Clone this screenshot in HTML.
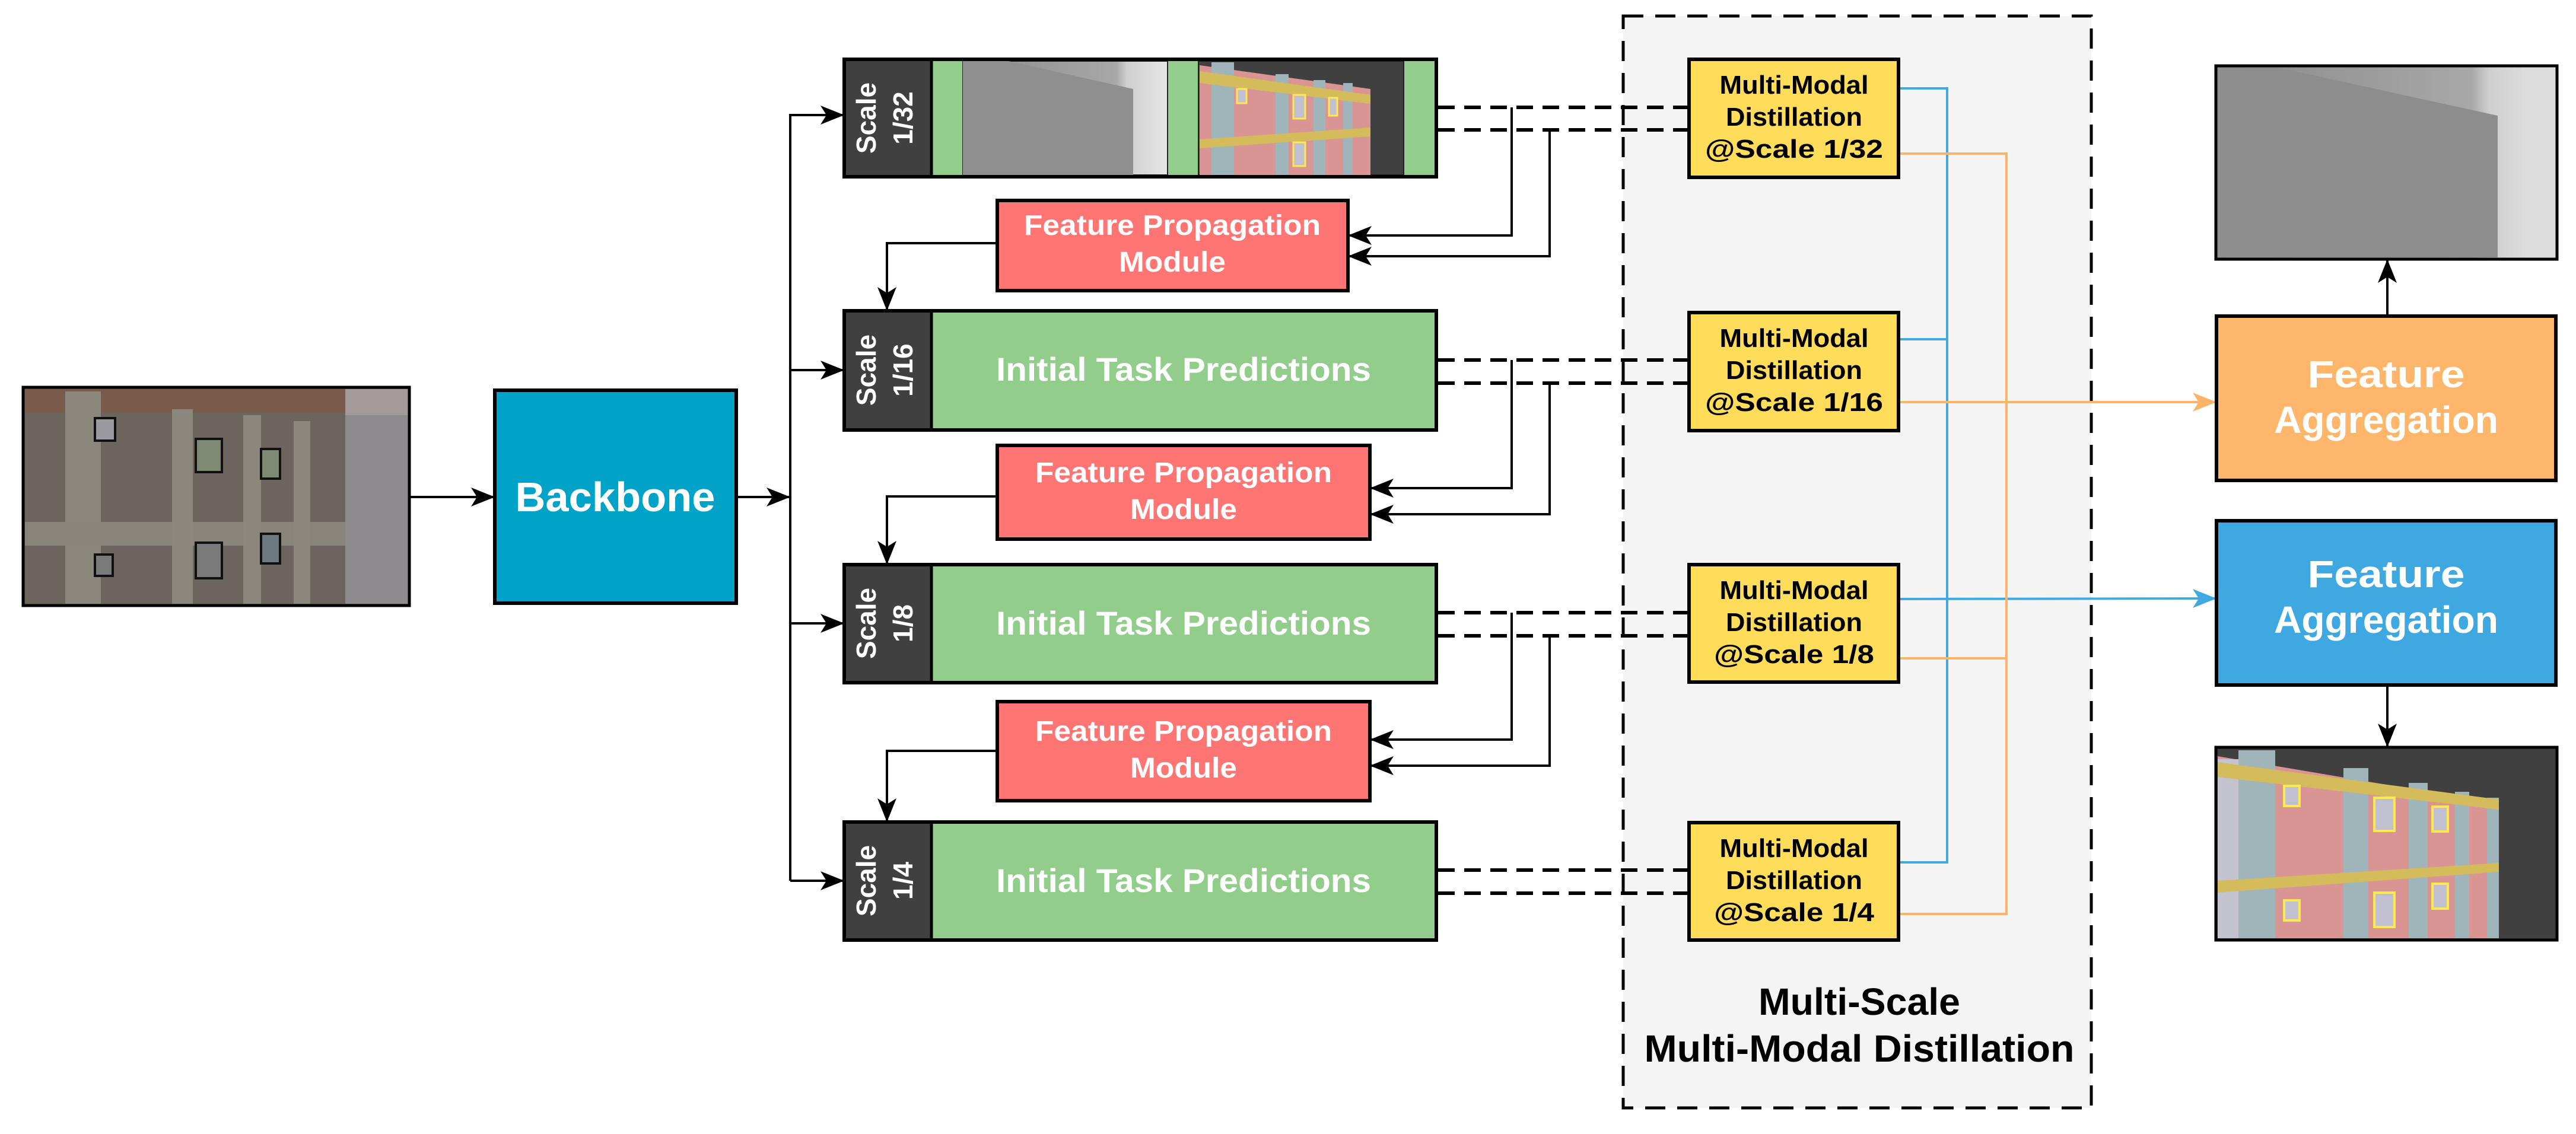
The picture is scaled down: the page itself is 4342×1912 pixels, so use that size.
<!DOCTYPE html>
<html><head><meta charset="utf-8"><style>
html,body{margin:0;padding:0;background:#fff;}
svg{display:block;}
text{font-family:"Liberation Sans",Arial,sans-serif;font-weight:bold;}
</style></head><body>
<svg width="4342" height="1912" viewBox="0 0 4342 1912" xmlns="http://www.w3.org/2000/svg">
<defs>
<marker id="ak" markerWidth="12" markerHeight="10" refX="11" refY="5" orient="auto" markerUnits="userSpaceOnUse" viewBox="0 0 12 10">
</marker>
<marker id="a" viewBox="0 0 20 16" refX="20" refY="8" markerWidth="40" markerHeight="32" orient="auto" markerUnits="userSpaceOnUse"><path d="M0,0 L20,8 L0,16 L5,8 z" fill="#000"/></marker>
<marker id="ab" viewBox="0 0 20 16" refX="20" refY="8" markerWidth="40" markerHeight="32" orient="auto" markerUnits="userSpaceOnUse"><path d="M0,0 L20,8 L0,16 L5,8 z" fill="#41a9e0"/></marker>
<marker id="ao" viewBox="0 0 20 16" refX="20" refY="8" markerWidth="40" markerHeight="32" orient="auto" markerUnits="userSpaceOnUse"><path d="M0,0 L20,8 L0,16 L5,8 z" fill="#fdb469"/></marker>
<linearGradient id="dep" x1="0" y1="0" x2="1" y2="0"><stop offset="0" stop-color="#8a8a8a"/><stop offset="0.75" stop-color="#a8a8a8"/><stop offset="0.8" stop-color="#cfcfcf"/><stop offset="1" stop-color="#e6e6e6"/></linearGradient>
</defs>

<!-- dashed distillation region -->
<rect x="2736" y="27" width="789" height="1841" fill="#f4f4f4" stroke="#000" stroke-width="5" stroke-dasharray="34,20"/>

<!-- input photo -->
<g>
<rect x="39" y="653" width="651" height="368" fill="#6e625c" stroke="#000" stroke-width="5"/>
<rect x="460" y="656" width="228" height="362" fill="#a39a9a"/>
<rect x="580" y="700" width="108" height="318" fill="#8e8a8e"/>
<rect x="42" y="656" width="540" height="362" fill="#6b655e"/>
<rect x="42" y="656" width="540" height="40" fill="#7a5a4a"/>
<rect x="110" y="660" width="60" height="358" fill="#8c877c"/>
<rect x="42" y="880" width="540" height="40" fill="#8a857a"/>
<rect x="290" y="690" width="35" height="328" fill="#8c877c"/>
<rect x="410" y="700" width="30" height="318" fill="#8c877c"/>
<rect x="495" y="710" width="28" height="308" fill="#8c877c"/>
<rect x="160" y="705" width="34" height="38" fill="#9a9aa0" stroke="#111" stroke-width="4"/>
<rect x="330" y="740" width="44" height="56" fill="#7e8a74" stroke="#111" stroke-width="4"/>
<rect x="440" y="757" width="32" height="50" fill="#7e8a74" stroke="#111" stroke-width="4"/>
<rect x="330" y="915" width="44" height="60" fill="#7a7a7a" stroke="#111" stroke-width="4"/>
<rect x="440" y="900" width="32" height="50" fill="#6d7a80" stroke="#111" stroke-width="4"/>
<rect x="160" y="935" width="30" height="36" fill="#7a7a7a" stroke="#111" stroke-width="4"/>
<rect x="39" y="653" width="651" height="368" fill="none" stroke="#000" stroke-width="5"/>
</g>
<line x1="690" y1="838" x2="834" y2="838" stroke="#000" stroke-width="4" marker-end="url(#a)"/>

<!-- backbone -->
<rect x="834" y="658" width="407" height="359" fill="#00a2c8" stroke="#000" stroke-width="6"/>
<text x="1037" y="862" font-size="70" fill="#fff" text-anchor="middle" textLength="337" lengthAdjust="spacingAndGlyphs">Backbone</text>
<line x1="1241" y1="838" x2="1332" y2="838" stroke="#000" stroke-width="4" marker-end="url(#a)"/>
<line x1="1332" y1="192" x2="1332" y2="1485" stroke="#000" stroke-width="4"/>
<g stroke="#000" stroke-width="4">
<line x1="1332" y1="194" x2="1423" y2="194" marker-end="url(#a)"/>
<line x1="1332" y1="624" x2="1423" y2="624" marker-end="url(#a)"/>
<line x1="1332" y1="1051" x2="1423" y2="1051" marker-end="url(#a)"/>
<line x1="1332" y1="1485" x2="1423" y2="1485" marker-end="url(#a)"/>
</g>

<!-- row 1 scale 1/32 -->
<rect x="1423" y="100" width="998" height="198" fill="#93cd8c" stroke="#000" stroke-width="6"/>
<rect x="1426" y="103" width="144" height="192" fill="#404040"/>
<line x1="1570" y1="100" x2="1570" y2="298" stroke="#000" stroke-width="5"/>
<rect x="1623" y="103" width="345" height="192" fill="url(#dep)" stroke="#222" stroke-width="2"/>
<polygon points="1623,103 1700,103 1910,150 1910,295 1623,295" fill="#8f8f8f"/>
<rect x="2020" y="103" width="346" height="192" fill="#404040" stroke="#222" stroke-width="2"/>
<polygon points="2022,110 2310,150 2310,295 2022,295" fill="#d99494"/>
<rect x="2042" y="105" width="38" height="190" fill="#9fb5ba"/>
<rect x="2150" y="125" width="22" height="170" fill="#9fb5ba"/>
<rect x="2214" y="135" width="20" height="160" fill="#9fb5ba"/>
<rect x="2264" y="140" width="16" height="155" fill="#9fb5ba"/>
<polygon points="2022,120 2310,160 2310,175 2022,140" fill="#d4bb5c"/>
<polygon points="2022,235 2310,215 2310,230 2022,250" fill="#d4bb5c"/>
<rect x="2085" y="150" width="16" height="24" fill="#c0c0d0" stroke="#ffe94f" stroke-width="3"/>
<rect x="2180" y="160" width="20" height="40" fill="#c0c0d0" stroke="#ffe94f" stroke-width="3"/>
<rect x="2180" y="240" width="20" height="40" fill="#c0c0d0" stroke="#ffe94f" stroke-width="3"/>
<rect x="2240" y="165" width="14" height="30" fill="#c0c0d0" stroke="#ffe94f" stroke-width="3"/>
<rect x="1423" y="100" width="998" height="198" fill="none" stroke="#000" stroke-width="6"/>
<text transform="translate(1476,199) rotate(-90)" font-size="46" fill="#fff" text-anchor="middle">Scale</text>
<text transform="translate(1538,199) rotate(-90)" font-size="46" fill="#fff" text-anchor="middle">1/32</text>

<!-- FPM 1 -->
<rect x="1681" y="338" width="591" height="152" fill="#ff7573" stroke="#000" stroke-width="6"/>
<text x="1976" y="396" font-size="48" fill="#fff" text-anchor="middle" textLength="500" lengthAdjust="spacingAndGlyphs">Feature Propagation</text>
<text x="1976" y="458" font-size="48" fill="#fff" text-anchor="middle" textLength="180" lengthAdjust="spacingAndGlyphs">Module</text>
<polyline points="1681,410 1495,410 1495,524" fill="none" stroke="#000" stroke-width="4" marker-end="url(#a)"/>
<polyline points="2548,181 2548,397 2272,397" fill="none" stroke="#000" stroke-width="4" marker-end="url(#a)"/>
<polyline points="2612,219 2612,432 2272,432" fill="none" stroke="#000" stroke-width="4" marker-end="url(#a)"/>

<!-- row 2 -->
<rect x="1423" y="524" width="998" height="201" fill="#93cd8c" stroke="#000" stroke-width="6"/>
<rect x="1426" y="527" width="144" height="195" fill="#404040"/>
<line x1="1570" y1="524" x2="1570" y2="725" stroke="#000" stroke-width="5"/>
<text transform="translate(1476,624) rotate(-90)" font-size="46" fill="#fff" text-anchor="middle">Scale</text>
<text transform="translate(1538,624) rotate(-90)" font-size="46" fill="#fff" text-anchor="middle">1/16</text>
<text x="1995" y="642" font-size="56" fill="#fff" text-anchor="middle" textLength="632" lengthAdjust="spacingAndGlyphs">Initial Task Predictions</text>

<!-- FPM 2 -->
<rect x="1681" y="751" width="628" height="158" fill="#ff7573" stroke="#000" stroke-width="6"/>
<text x="1995" y="813" font-size="48" fill="#fff" text-anchor="middle" textLength="500" lengthAdjust="spacingAndGlyphs">Feature Propagation</text>
<text x="1995" y="875" font-size="48" fill="#fff" text-anchor="middle" textLength="180" lengthAdjust="spacingAndGlyphs">Module</text>
<polyline points="1681,837 1495,837 1495,952" fill="none" stroke="#000" stroke-width="4" marker-end="url(#a)"/>
<polyline points="2548,607 2548,823 2309,823" fill="none" stroke="#000" stroke-width="4" marker-end="url(#a)"/>
<polyline points="2612,646 2612,867 2309,867" fill="none" stroke="#000" stroke-width="4" marker-end="url(#a)"/>

<!-- row 3 -->
<rect x="1423" y="952" width="998" height="199" fill="#93cd8c" stroke="#000" stroke-width="6"/>
<rect x="1426" y="955" width="144" height="193" fill="#404040"/>
<line x1="1570" y1="952" x2="1570" y2="1151" stroke="#000" stroke-width="5"/>
<text transform="translate(1476,1051) rotate(-90)" font-size="46" fill="#fff" text-anchor="middle">Scale</text>
<text transform="translate(1538,1051) rotate(-90)" font-size="46" fill="#fff" text-anchor="middle">1/8</text>
<text x="1995" y="1070" font-size="56" fill="#fff" text-anchor="middle" textLength="632" lengthAdjust="spacingAndGlyphs">Initial Task Predictions</text>

<!-- FPM 3 -->
<rect x="1681" y="1183" width="628" height="167" fill="#ff7573" stroke="#000" stroke-width="6"/>
<text x="1995" y="1249" font-size="48" fill="#fff" text-anchor="middle" textLength="500" lengthAdjust="spacingAndGlyphs">Feature Propagation</text>
<text x="1995" y="1311" font-size="48" fill="#fff" text-anchor="middle" textLength="180" lengthAdjust="spacingAndGlyphs">Module</text>
<polyline points="1681,1266 1495,1266 1495,1386" fill="none" stroke="#000" stroke-width="4" marker-end="url(#a)"/>
<polyline points="2548,1033 2548,1247 2309,1247" fill="none" stroke="#000" stroke-width="4" marker-end="url(#a)"/>
<polyline points="2612,1072 2612,1291 2309,1291" fill="none" stroke="#000" stroke-width="4" marker-end="url(#a)"/>

<!-- row 4 -->
<rect x="1423" y="1386" width="998" height="199" fill="#93cd8c" stroke="#000" stroke-width="6"/>
<rect x="1426" y="1389" width="144" height="193" fill="#404040"/>
<line x1="1570" y1="1386" x2="1570" y2="1585" stroke="#000" stroke-width="5"/>
<text transform="translate(1476,1485) rotate(-90)" font-size="46" fill="#fff" text-anchor="middle">Scale</text>
<text transform="translate(1538,1485) rotate(-90)" font-size="46" fill="#fff" text-anchor="middle">1/4</text>
<text x="1995" y="1504" font-size="56" fill="#fff" text-anchor="middle" textLength="632" lengthAdjust="spacingAndGlyphs">Initial Task Predictions</text>

<!-- dashed connectors -->
<g stroke="#000" stroke-width="6" stroke-dasharray="28,16" fill="none">
<line x1="2424" y1="181" x2="2847" y2="181"/><line x1="2424" y1="219" x2="2847" y2="219"/>
<line x1="2424" y1="607" x2="2847" y2="607"/><line x1="2424" y1="646" x2="2847" y2="646"/>
<line x1="2424" y1="1033" x2="2847" y2="1033"/><line x1="2424" y1="1072" x2="2847" y2="1072"/>
<line x1="2424" y1="1467" x2="2847" y2="1467"/><line x1="2424" y1="1506" x2="2847" y2="1506"/>
</g>

<!-- colored lines -->
<g fill="none" stroke-width="4">
<polyline points="3200,149 3282,149 3282,1454 3200,1454" stroke="#41a9e0"/>
<line x1="3200" y1="572" x2="3282" y2="572" stroke="#41a9e0"/>
<line x1="3200" y1="1010" x2="3736" y2="1009" stroke="#41a9e0" marker-end="url(#ab)"/>
<polyline points="3200,259 3382,259 3382,1541 3200,1541" stroke="#fdb469"/>
<line x1="3200" y1="1110" x2="3382" y2="1110" stroke="#fdb469"/>
<line x1="3200" y1="678" x2="3736" y2="678" stroke="#fdb469" marker-end="url(#ao)"/>
</g>

<!-- MMD boxes -->
<g>
<rect x="2847" y="100" width="353" height="199" fill="#ffdd5a" stroke="#000" stroke-width="6"/>
<rect x="2847" y="527" width="353" height="199" fill="#ffdd5a" stroke="#000" stroke-width="6"/>
<rect x="2847" y="952" width="353" height="198" fill="#ffdd5a" stroke="#000" stroke-width="6"/>
<rect x="2847" y="1387" width="353" height="198" fill="#ffdd5a" stroke="#000" stroke-width="6"/>
</g>
<g font-size="44" fill="#000" text-anchor="middle">
<text x="3024" y="158" textLength="251" lengthAdjust="spacingAndGlyphs">Multi-Modal</text>
<text x="3024" y="212" textLength="230" lengthAdjust="spacingAndGlyphs">Distillation</text>
<text x="3024" y="266" textLength="300" lengthAdjust="spacingAndGlyphs">@Scale 1/32</text>
<text x="3024" y="585" textLength="251" lengthAdjust="spacingAndGlyphs">Multi-Modal</text>
<text x="3024" y="639" textLength="230" lengthAdjust="spacingAndGlyphs">Distillation</text>
<text x="3024" y="693" textLength="300" lengthAdjust="spacingAndGlyphs">@Scale 1/16</text>
<text x="3024" y="1010" textLength="251" lengthAdjust="spacingAndGlyphs">Multi-Modal</text>
<text x="3024" y="1064" textLength="230" lengthAdjust="spacingAndGlyphs">Distillation</text>
<text x="3024" y="1118" textLength="270" lengthAdjust="spacingAndGlyphs">@Scale 1/8</text>
<text x="3024" y="1445" textLength="251" lengthAdjust="spacingAndGlyphs">Multi-Modal</text>
<text x="3024" y="1499" textLength="230" lengthAdjust="spacingAndGlyphs">Distillation</text>
<text x="3024" y="1553" textLength="270" lengthAdjust="spacingAndGlyphs">@Scale 1/4</text>
</g>
<text x="3134" y="1711" font-size="64" fill="#000" text-anchor="middle" textLength="340" lengthAdjust="spacingAndGlyphs">Multi-Scale</text>
<text x="3134" y="1790" font-size="64" fill="#000" text-anchor="middle" textLength="725" lengthAdjust="spacingAndGlyphs">Multi-Modal  Distillation</text>

<!-- Feature aggregation -->
<rect x="3736" y="533" width="572" height="277" fill="#ffb66b" stroke="#000" stroke-width="6"/>
<text x="4022" y="653" font-size="64" fill="#fff" text-anchor="middle" textLength="265" lengthAdjust="spacingAndGlyphs">Feature</text>
<text x="4022" y="730" font-size="64" fill="#fff" text-anchor="middle" textLength="378" lengthAdjust="spacingAndGlyphs">Aggregation</text>
<rect x="3736" y="878" width="572" height="277" fill="#40a8e0" stroke="#000" stroke-width="6"/>
<text x="4022" y="990" font-size="64" fill="#fff" text-anchor="middle" textLength="265" lengthAdjust="spacingAndGlyphs">Feature</text>
<text x="4022" y="1067" font-size="64" fill="#fff" text-anchor="middle" textLength="378" lengthAdjust="spacingAndGlyphs">Aggregation</text>
<line x1="4024" y1="533" x2="4024" y2="437" stroke="#000" stroke-width="4" marker-end="url(#a)"/>
<line x1="4024" y1="1155" x2="4024" y2="1260" stroke="#000" stroke-width="4" marker-end="url(#a)"/>

<!-- depth output -->
<rect x="3735" y="111" width="575" height="326" fill="url(#dep)"/>
<polygon points="3738,114 3840,114 4210,195 4210,434 3738,434" fill="#8d8d8d"/>
<rect x="4250" y="114" width="60" height="320" fill="#dcdcdc"/>
<rect x="3735" y="111" width="575" height="326" fill="none" stroke="#000" stroke-width="5"/>

<!-- seg output -->
<rect x="3735" y="1260" width="575" height="325" fill="#404040"/>
<polygon points="3738,1275 4212,1355 4212,1582 3738,1582" fill="#d99494"/>
<rect x="3738" y="1280" width="35" height="302" fill="#c4c4d0"/>
<rect x="3773" y="1265" width="62" height="317" fill="#9fb5ba"/>
<rect x="3950" y="1295" width="42" height="287" fill="#9fb5ba"/>
<rect x="4060" y="1320" width="32" height="262" fill="#9fb5ba"/>
<rect x="4138" y="1335" width="24" height="247" fill="#9fb5ba"/>
<rect x="4192" y="1345" width="20" height="237" fill="#9fb5ba"/>
<polygon points="3738,1285 4212,1348 4212,1365 3738,1310" fill="#d4bb5c"/>
<polygon points="3738,1485 4212,1455 4212,1470 3738,1505" fill="#d4bb5c"/>
<rect x="3850" y="1325" width="26" height="34" fill="#c0c0d0" stroke="#ffe94f" stroke-width="4"/>
<rect x="4002" y="1345" width="34" height="56" fill="#c0c0d0" stroke="#ffe94f" stroke-width="4"/>
<rect x="4100" y="1360" width="26" height="42" fill="#c0c0d0" stroke="#ffe94f" stroke-width="4"/>
<rect x="3850" y="1518" width="26" height="34" fill="#c0c0d0" stroke="#ffe94f" stroke-width="4"/>
<rect x="4002" y="1505" width="34" height="58" fill="#c0c0d0" stroke="#ffe94f" stroke-width="4"/>
<rect x="4100" y="1490" width="26" height="42" fill="#c0c0d0" stroke="#ffe94f" stroke-width="4"/>
<rect x="3735" y="1260" width="575" height="325" fill="none" stroke="#000" stroke-width="5"/>
</svg>
</body></html>
